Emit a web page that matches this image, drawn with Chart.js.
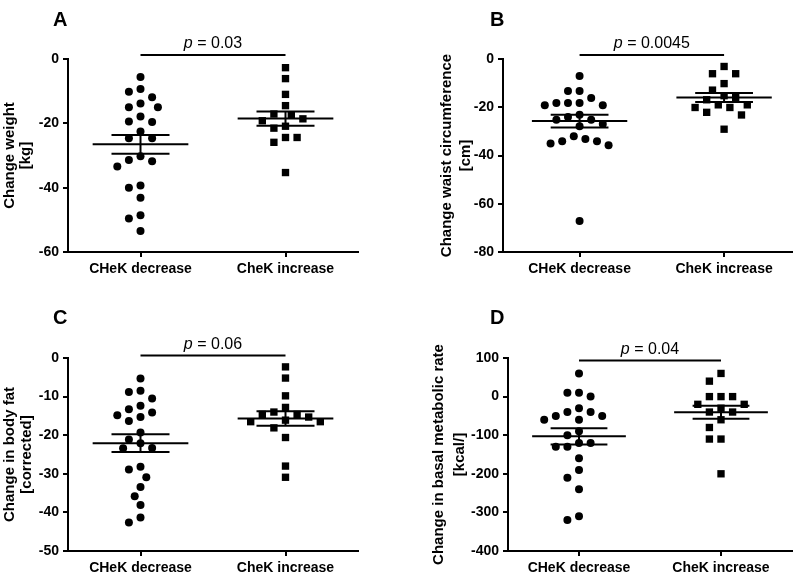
<!DOCTYPE html>
<html>
<head>
<meta charset="utf-8">
<script src="https://cdn.jsdelivr.net/npm/chart.js@4"></script>
<style>
body { margin: 0; background: #fff; width: 800px; height: 573px; position: relative; overflow: hidden; }
.panel { position: absolute; width: 400px; }
</style>
</head>
<body>
<div class="panel" style="left:0;top:0;height:286px"><canvas id="cA" width="400" height="286"></canvas></div>
<div class="panel" style="left:400px;top:0;height:286px"><canvas id="cB" width="400" height="286"></canvas></div>
<div class="panel" style="left:0;top:286px;height:287px"><canvas id="cC" width="400" height="287"></canvas></div>
<div class="panel" style="left:400px;top:286px;height:287px"><canvas id="cD" width="400" height="287"></canvas></div>
<script>
var groups = ['CHeK decrease', 'CheK increase'];

// values
var weightDec = [-5.6, -10.2, -9.3, -11.9, -15.0, -15.0, -13.8, -17.9, -19.6, -19.4, -22.5, -24.6, -24.6, -30.2, -31.4, -31.8, -33.4, -39.3, -40.0, -43.1, -48.6, -49.6, -53.5];
var weightInc = [-2.7, -6.1, -11.0, -14.5, -17.5, -17.1, -18.6, -19.2, -21.5, -20.9, -24.4, -24.4, -25.9, -35.3];
var waistDec = [-7.0, -13.3, -13.3, -16.2, -18.2, -19.2, -18.2, -18.2, -19.2, -24.0, -25.2, -23.1, -26.9, -25.2, -27.9, -32.0, -34.1, -35.0, -35.8, -34.1, -33.2, -67.2];
var waistInc = [-3.1, -6.1, -6.1, -10.2, -12.9, -15.2, -16.9, -16.0, -19.0, -20.1, -19.0, -20.1, -22.1, -23.2, -29.1];
var fatDec = [-5.3, -8.8, -8.5, -10.5, -12.4, -14.1, -15.3, -14.8, -13.3, -16.3, -19.3, -21.1, -22.1, -23.4, -23.3, -28.2, -28.9, -30.9, -33.4, -35.8, -38.1, -41.3, -42.6];
var fatInc = [-2.3, -5.2, -9.8, -12.8, -14.0, -14.6, -16.1, -16.5, -16.5, -15.3, -14.6, -18.1, -20.6, -28.0, -30.9];
var bmrDec = [60, 10, 10, 0, -40, -50, -60, -50, -60, -40, -30, -90, -100, -120, -130, -130, -120, -160, -190, -210, -240, -310, -320];
var bmrInc = [60, 40, 0, 0, 0, -20, -20, -40, -40, -30, -60, -80, -110, -110, -200];

var pValues = ['0.03', '0.0045', '0.06', '0.04'];
var letters = ['A', 'B', 'C', 'D'];
var yTitles = [
    ['Change weight', '[kg]'],
    ['Change waist circumference', '[cm]'],
    ['Change in body fat', '[corrected]'],
    ['Change in basal metabolic rate', '[kcal/]']
];
var yMins = [-60, -80, -50, -400];
var yMaxs = [0, 0, 0, 100];
var ySteps = [20, 20, 10, 100];

var FONT = "'Liberation Sans', Arial, sans-serif";
Chart.defaults.font.family = FONT;
Chart.defaults.color = '#000';

// layout of each panel inside its 400px box
var panels = [
    { id: 'cA', data: [weightDec, weightInc], h: 286, area: { left: 68, top: 59, right: 358, bottom: 252 }, padLeft: 0, titleLH: 16, xMin: 0.5, letterX: 53, letterY: 26, bracket: -4 },
    { id: 'cB', data: [waistDec, waistInc], h: 286, area: { left: 103, top: 59, right: 392, bottom: 252 }, padLeft: 35, titleLH: 19.5, xMin: 0.47, letterX: 90, letterY: 26, bracket: -4 },
    { id: 'cC', data: [fatDec, fatInc], h: 287, area: { left: 68, top: 72, right: 358, bottom: 265 }, padLeft: 0, titleLH: 16.5, xMin: 0.5, letterX: 53, letterY: 38, bracket: -2.5 },
    { id: 'cD', data: [bmrDec, bmrInc], h: 287, area: { left: 108, top: 72, right: 392, bottom: 265 }, padLeft: 26, titleLH: 21.5, xMin: 0.5, letterX: 90, letterY: 38, bracket: 2.5 }
];

// simple beeswarm: spread points sideways so markers don't sit on top of each other
function swarm(vals, pxPerY, pxPerX) {
    var step = 5.8, dia = 10.5;
    var placed = [];
    var out = new Array(vals.length);
    var order = vals.map((v, i) => i).sort((a, b) => vals[b] - vals[a]);
    order.forEach(i => {
        var y = vals[i] * pxPerY;
        for (var k = 0; k < 60; k++) {
            var dx = (k % 2 ? -1 : 1) * Math.ceil(k / 2) * step;
            var ok = placed.every(p => (p.x - dx) * (p.x - dx) + (p.y - y) * (p.y - y) >= dia * dia);
            if (ok) {
                placed.push({ x: dx, y: y });
                out[i] = dx / pxPerX;
                break;
            }
        }
    });
    return out;
}

function meanSem(vals) {
    var n = vals.length;
    var mean = vals.reduce((a, b) => a + b, 0) / n;
    var sd = Math.sqrt(vals.reduce((a, b) => a + (b - mean) * (b - mean), 0) / (n - 1));
    return { mean: mean, sem: sd / Math.sqrt(n) };
}

var extras = {
    id: 'extras',
    afterDatasetsDraw(chart, args, opts) {
        var ctx = chart.ctx, xs = chart.scales.x, ys = chart.scales.y;
        function seg(x1, y1, x2, y2) {
            ctx.beginPath();
            ctx.moveTo(x1, y1);
            ctx.lineTo(x2, y2);
            ctx.stroke();
        }
        ctx.save();
        ctx.strokeStyle = '#000';
        ctx.lineWidth = 2;
        // mean and SEM
        opts.groups.forEach((vals, g) => {
            var s = meanSem(vals), c = g + 1;
            var ym = ys.getPixelForValue(s.mean);
            var yHi = ys.getPixelForValue(s.mean + s.sem);
            var yLo = ys.getPixelForValue(s.mean - s.sem);
            seg(xs.getPixelForValue(c - 0.33), ym, xs.getPixelForValue(c + 0.33), ym);
            seg(xs.getPixelForValue(c - 0.2), yHi, xs.getPixelForValue(c + 0.2), yHi);
            seg(xs.getPixelForValue(c - 0.2), yLo, xs.getPixelForValue(c + 0.2), yLo);
            seg(xs.getPixelForValue(c), yHi, xs.getPixelForValue(c), yLo);
        });
        // significance bracket
        var x1 = xs.getPixelForValue(1), x2 = xs.getPixelForValue(2);
        var ly = chart.chartArea.top + opts.bracket;
        seg(x1, ly, x2, ly);
        ctx.fillStyle = '#000';
        ctx.textBaseline = 'alphabetic';
        ctx.font = 'italic 16px ' + FONT;
        var wp = ctx.measureText('p').width;
        var rest = ' = ' + opts.p;
        ctx.font = '16px ' + FONT;
        var wr = ctx.measureText(rest).width;
        var tx = (x1 + x2) / 2 - (wp + wr) / 2;
        ctx.font = 'italic 16px ' + FONT;
        ctx.fillText('p', tx, ly - 7);
        ctx.font = '16px ' + FONT;
        ctx.fillText(rest, tx + wp, ly - 7);
        // panel letter
        ctx.font = 'bold 20px ' + FONT;
        ctx.fillText(opts.letter, opts.letterX, opts.letterY);
        ctx.restore();
    }
};

panels.forEach((pn, i) => {
    var pxPerY = (pn.area.bottom - pn.area.top) / (yMaxs[i] - yMins[i]);
    var pxPerX = (pn.area.right - pn.area.left) / 2;
    var styles = ['circle', 'rect'];
    var datasets = pn.data.map((vals, g) => {
        var off = swarm(vals, pxPerY, pxPerX);
        return {
            data: vals.map((v, k) => ({ x: g + 1 + off[k], y: v })),
            pointStyle: styles[g],
            pointRadius: g === 0 ? 4 : 5.2,
            backgroundColor: '#000',
            borderWidth: 0
        };
    });
    var axisGrid = { drawOnChartArea: false, drawTicks: true, tickLength: 5, color: '#000', lineWidth: 2 };
    new Chart(document.getElementById(pn.id), {
        type: 'scatter',
        data: { datasets: datasets },
        options: {
            responsive: false,
            animation: false,
            layout: { padding: { left: pn.padLeft, top: pn.area.top, right: 400 - pn.area.right, bottom: 0 } },
            plugins: {
                legend: { display: false },
                tooltip: { enabled: false },
                extras: { groups: pn.data, p: pValues[i], letter: letters[i], letterX: pn.letterX, letterY: pn.letterY, bracket: pn.bracket }
            },
            scales: {
                x: {
                    type: 'linear',
                    min: pn.xMin,
                    max: pn.xMin + 2,
                    afterBuildTicks: s => { s.ticks = [{ value: 1 }, { value: 2 }]; },
                    afterFit: s => { s.height = pn.h - pn.area.bottom; },
                    ticks: { callback: v => groups[v - 1], font: { size: 14, weight: 'bold' }, padding: 4, maxRotation: 0, autoSkip: false },
                    grid: axisGrid,
                    border: { color: '#000', width: 2 }
                },
                y: {
                    min: yMins[i],
                    max: yMaxs[i],
                    afterFit: s => { s.width = pn.area.left - pn.padLeft; },
                    ticks: { stepSize: ySteps[i], font: { size: 14, weight: 'bold' }, padding: 4 },
                    title: { display: true, text: yTitles[i], font: { size: 15, weight: 'bold', lineHeight: pn.titleLH + 'px' }, padding: { top: 2, bottom: 0 } },
                    grid: axisGrid,
                    border: { color: '#000', width: 2 }
                }
            }
        },
        plugins: [extras]
    });
});
</script>
</body>
</html>
